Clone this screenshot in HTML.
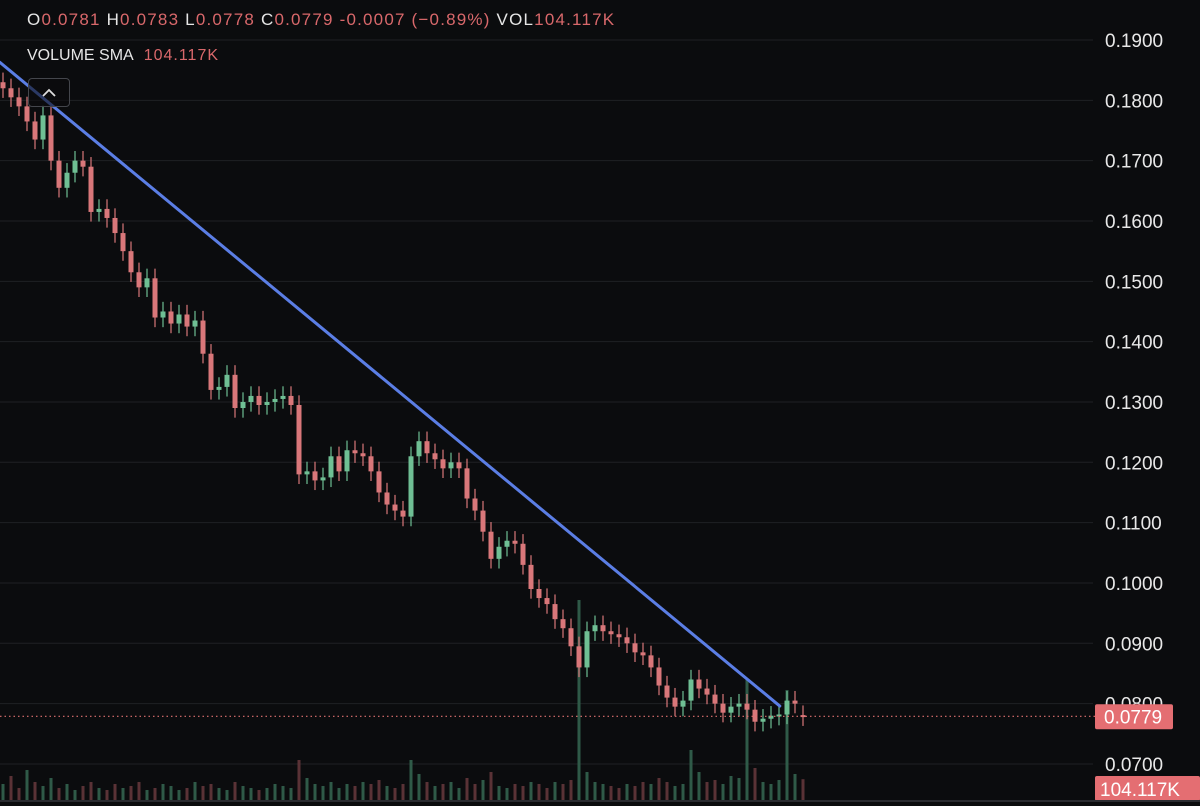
<!DOCTYPE html>
<html><head><meta charset="utf-8">
<style>
html,body{margin:0;padding:0;background:#0b0c0e;}
#wrap{position:relative;width:1200px;height:806px;overflow:hidden;background:#0b0c0e;font-family:"Liberation Sans",sans-serif;}
svg{position:absolute;left:0;top:0;}
.hdr{position:absolute;left:27px;top:10px;font-size:17px;color:#e6e6e6;letter-spacing:1.2px;white-space:nowrap;}
.hdr .v{color:#d9686b;}
.sma{position:absolute;left:27px;top:47px;font-size:16px;color:#e6e6e6;white-space:nowrap;}
.sma .v{color:#d9686b;margin-left:10px;letter-spacing:1px;}
.btn{position:absolute;left:28px;top:78px;width:42px;height:29px;border:1px solid #44464c;border-radius:4px;box-sizing:border-box;background:rgba(11,12,14,0.6);}
.btn svg{position:absolute;left:13px;top:9px;}
</style></head>
<body>
<div id="wrap">
<svg id="chart" width="1200" height="806"></svg>
<div class="hdr">O<span class="v">0.0781</span> H<span class="v">0.0783</span> L<span class="v">0.0778</span> C<span class="v">0.0779</span> <span class="v">-0.0007 (−0.89%)</span> VOL<span class="v">104.117K</span></div>
<div class="sma">VOLUME SMA<span class="v">104.117K</span></div>
<div class="btn"><svg width="14" height="9"><polyline points="1,8 7,2 13,8" fill="none" stroke="#ddd" stroke-width="1.8"/></svg></div>
</div>
<script>
const closes=[0.1820,0.1805,0.1790,0.1765,0.1735,0.1775,0.1700,0.1655,0.1680,0.1700,0.1690,0.1615,0.1620,0.1605,0.1580,0.1550,0.1515,0.1490,0.1505,0.1440,0.1450,0.1430,0.1445,0.1425,0.1435,0.1380,0.1320,0.1325,0.1345,0.1290,0.1300,0.1310,0.1295,0.1300,0.1305,0.1310,0.1295,0.1180,0.1185,0.1170,0.1175,0.1210,0.1185,0.1220,0.1215,0.1210,0.1185,0.1150,0.1130,0.1120,0.1110,0.1210,0.1235,0.1215,0.1205,0.1190,0.1200,0.1190,0.1140,0.1120,0.1085,0.1040,0.1060,0.1070,0.1065,0.1030,0.0990,0.0975,0.0965,0.0940,0.0925,0.0895,0.0860,0.0920,0.0930,0.0920,0.0915,0.0910,0.0900,0.0885,0.0880,0.0860,0.0830,0.0810,0.0795,0.0805,0.0840,0.0825,0.0815,0.0800,0.0785,0.0795,0.0800,0.0790,0.0770,0.0775,0.0780,0.0782,0.0805,0.0800,0.0779];
const opens=[0.1830,0.1820,0.1805,0.1790,0.1765,0.1735,0.1775,0.1700,0.1655,0.1680,0.1700,0.1690,0.1615,0.1620,0.1605,0.1580,0.1550,0.1515,0.1490,0.1505,0.1440,0.1450,0.1430,0.1445,0.1425,0.1435,0.1380,0.1320,0.1325,0.1345,0.1290,0.1300,0.1310,0.1295,0.1300,0.1305,0.1310,0.1295,0.1180,0.1185,0.1170,0.1175,0.1210,0.1185,0.1220,0.1215,0.1210,0.1185,0.1150,0.1130,0.1120,0.1110,0.1210,0.1235,0.1215,0.1205,0.1190,0.1200,0.1190,0.1140,0.1120,0.1085,0.1040,0.1060,0.1070,0.1065,0.1030,0.0990,0.0975,0.0965,0.0940,0.0925,0.0895,0.0860,0.0920,0.0930,0.0920,0.0915,0.0910,0.0900,0.0885,0.0880,0.0860,0.0830,0.0810,0.0795,0.0805,0.0840,0.0825,0.0815,0.0800,0.0785,0.0795,0.0800,0.0790,0.0770,0.0775,0.0780,0.0782,0.0805,0.0781];
const volumes=[160,240,120,300,180,140,220,120,160,100,140,180,120,100,160,120,140,180,100,120,160,140,100,120,180,140,160,120,100,180,140,120,100,120,160,140,120,400,220,160,140,180,120,160,140,180,160,200,140,120,160,400,260,180,140,160,180,120,220,160,200,280,140,120,160,140,180,160,120,180,160,200,2000,280,180,160,140,120,160,140,180,160,220,180,140,160,500,280,180,200,160,240,220,1200,320,180,160,200,1100,260,208];
const priceTicks=[0.19,0.18,0.17,0.16,0.15,0.14,0.13,0.12,0.11,0.10,0.09,0.08,0.07];
const tickLabels=["0.1900","0.1800","0.1700","0.1600","0.1500","0.1400","0.1300","0.1200","0.1100","0.1000","0.0900","0.0800","0.0700"];
const trendIdx=[-0.4,97.1];
const trendPrice=[0.1863,0.0796];
const lastPrice=0.0779;
const lastVolLabel="104.117K";

const NS="http://www.w3.org/2000/svg";
const svg=document.getElementById('chart');
const y=p=>40+(0.19-p)/0.01*60.33;
const x=i=>3+i*8;
const vy=v=>800-v*0.1;
function mk(t,a){const e=document.createElementNS(NS,t);for(const k in a)e.setAttribute(k,a[k]);svg.appendChild(e);return e;}
priceTicks.forEach((p,i)=>{
  const g=mk('line',{x1:0,x2:1093,y1:y(p),y2:y(p),stroke:'#1f2024','stroke-width':1});
  
  
  const t=mk('text',{x:1105,y:y(p)+7,fill:'#e8e8e8','font-size':19,'font-family':'Liberation Sans, sans-serif'});
  t.textContent=tickLabels[i];
  
  
});
volumes.forEach((v,i)=>{
  const up=(i%3===0)||closes[i]>=opens[i];
  const r=mk('rect',{x:x(i)-1.5,y:vy(v),width:3,height:800-vy(v),fill:up?'#2f5a48':'#5a3236'});
  
  
});
closes.forEach((c,i)=>{
  const o=opens[i];const up=c>=o;const col=up?'#6fbf94':'#d9777a';
  const hi=Math.max(o,c)+0.0016,lo=Math.min(o,c)-0.0016;
  const w=mk('line',{x1:x(i),x2:x(i),y1:y(hi),y2:y(lo),stroke:col,'stroke-width':1.2});
  
  
  const top=y(Math.max(o,c)),bot=y(Math.min(o,c));
  const b=mk('rect',{x:x(i)-2.5,y:top,width:5,height:Math.max(2,bot-top),fill:col});
  
  
});
const tl=mk('line',{x1:x(trendIdx[0]),y1:y(trendPrice[0]),x2:x(trendIdx[1]),y2:y(trendPrice[1]),stroke:'#5b7ee5','stroke-width':3,'stroke-linecap':'round'});


const lp=mk('line',{x1:0,x2:1095,y1:y(lastPrice),y2:y(lastPrice),stroke:'#e07070','stroke-width':1.2,'stroke-dasharray':'1.5 3'});


const pb=mk('rect',{x:1095,y:y(lastPrice)-12,width:78,height:25,rx:2,fill:'#e46e72'});


const pt=mk('text',{x:1104,y:y(lastPrice)+7,fill:'#fff','font-size':19,'font-family':'Liberation Sans, sans-serif'});
pt.textContent=lastPrice.toFixed(4);


const vb=mk('rect',{x:1095,y:776,width:105,height:25,rx:2,fill:'#e46e72'});


const vt=mk('text',{x:1100,y:796,fill:'#fff','font-size':19,'font-family':'Liberation Sans, sans-serif'});
vt.textContent=lastVolLabel;


const ax=mk('line',{x1:0,x2:1200,y1:801,y2:801,stroke:'#2a2b30','stroke-width':2});


</script>
</body></html>
